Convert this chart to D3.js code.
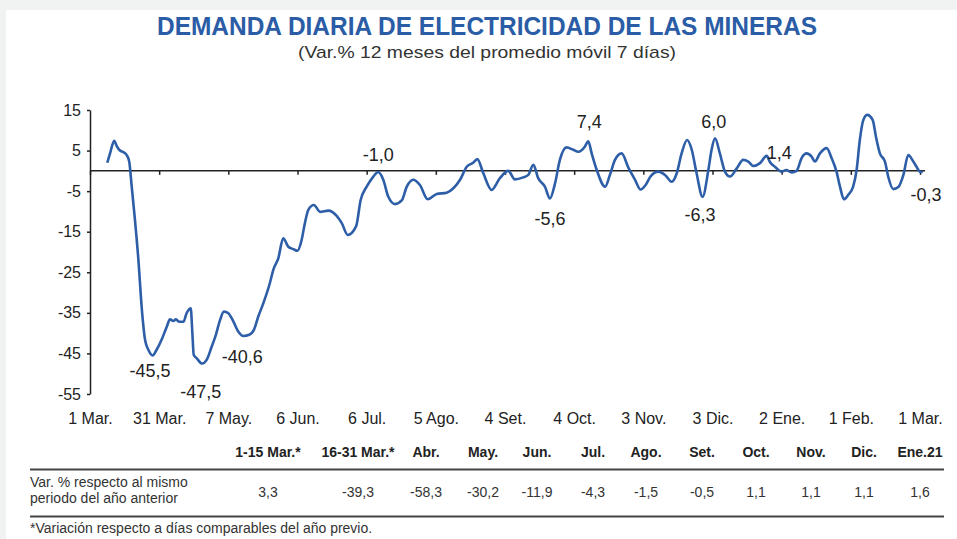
<!DOCTYPE html>
<html>
<head>
<meta charset="utf-8">
<script src="https://cdn.jsdelivr.net/npm/d3@7"></script>
<style>
  body { margin: 0; background: #fff; }
  svg { display: block; font-family: "Liberation Sans", Arial, sans-serif; }
</style>
</head>
<body>
<svg id="chart" width="957" height="539"></svg>
<script>
// dias desde el 1 de marzo y variacion %
var dias = [7.5, 8.7, 10.5, 11.6, 13, 14.5, 15.9, 17, 18.1, 19.5, 21, 22.4, 23.9, 25.3, 27.2, 28.9,
  31, 33.3, 34.7, 36.1, 37.3, 38.7, 40.5, 41.9, 43.7, 44.4, 45, 46.3, 48.6, 50.6, 52.8, 54.6,
  56.4, 58.1, 60, 61.9, 64.3, 66.5, 69.1, 71.1, 73, 75.2, 78, 79.5, 81.7, 83.8, 86, 88.2,
  90, 91.8, 93.2, 94.7, 97.1, 99.8, 103.4, 107, 109.2, 111.8, 115.4, 117.4, 120, 122.9,
  125, 127.2, 129.4, 132.3, 135.2, 137.4, 140.2, 143.1, 146.5, 150.4, 154.7, 157.6, 160.5,
  163.4, 166.2, 168, 170.6, 174.2, 177.8, 181.4, 184.3, 187.9, 190.1, 192.3, 194.4, 197.3,
  199.5, 201.7, 203.8, 206.7, 209.6, 211.8, 214.7, 216.1, 217.6, 219.8, 223.4, 225.5, 227.7,
  230.6, 233.5, 236.4, 238.8, 241, 243.1, 246.5, 249.4, 252.3, 254.5, 256.6, 259, 261,
  263.1, 265.7, 268.2, 269.6, 271.1, 273.2, 275.4, 277.6, 280.5, 283.3, 285.5, 287.7,
  290.6, 293.5, 294.9, 297.1, 300, 302, 304.3, 306.5, 308.6, 310.8, 313, 314.4, 316.6,
  319.5, 321.7, 323.8, 325.3, 327, 328.9, 331, 332.5, 333.9, 335.4, 337.1, 339.5, 340.9,
  342.6, 344.8, 346.2, 348.4, 350.6, 352.8, 354.9, 357.1, 358.5, 360, 361.2];
var variacion = [2.0, 4.3, 7.4, 6.1, 5.0, 4.6, 3.9, 2.3, -3.9, -12.1, -22, -33.5, -41.7, -44.1, -45.5, -44.1,
  -41.7, -38.4, -36.6, -37, -36.6, -37.2, -37.2, -35.1, -33.9, -40, -45.4, -46.2, -47.5, -46.6, -43.3, -40.4,
  -36.8, -34.7, -35.1, -36.8, -39.6, -40.7, -40.4, -39.2, -35.9, -32.6, -27.7, -24.4, -21.5, -16.6, -18.7, -19.3,
  -19.7, -17, -12.9, -9.6, -8.4, -10.1, -9.8, -11.1, -12.9, -15.8, -13.7, -7.2, -3.9, -1.4,
  -0.3, -2.2, -6.4, -8.2, -7.3, -3.9, -2.2, -3.5, -7.0, -5.7, -5.4, -4.3, -2.2,
  1.0, 2.0, 2.9, -0.6, -4.7, -1.8, 0.0, -2.1, -1.6, -1.0, 1.5, -1.8, -3.9,
  -6.8, -3.1, 2.7, 5.8, 5.2, 4.7, 6.0, 7.3, 4.3, 0.2, -3.9, -1.0, 2.7,
  4.3, 0.8, -2.2, -4.6, -3.5, -1.4, -0.2, -1.0, -2.7, -0.6, 4.3, 7.6, 5.2,
  -0.6, -6.4, 0.2, 5.2, 8.0, 4.3, -0.2, -1.4, 0.6, 2.7, 2.3, 1.2,
  1.9, 3.7, 2.2, 1.0, -0.2, 0.2, -0.4, 0.0, 3.1, 4.3, 3.5, 2.3, 4.3,
  5.6, 3.1, -0.2, -3.9, -7.0, -5.9, -3.9, 0.2, 7.6, 12.5, 13.8, 12.5, 8.4,
  4.3, 2.3, -1.4, -4.5, -4.0, -1.0, 3.9, 2.3, 1.0, -0.2, -0.3];

var diasTick = [0, 30, 60, 90, 120, 150, 180, 210, 240, 270, 300, 330, 360];
var fechasTick = ["1 Mar.", "31 Mar.", "7 May.", "6 Jun.", "6 Jul.", "5 Ago.", "4 Set.",
  "4 Oct.", "3 Nov.", "3 Dic.", "2 Ene.", "1 Feb.", "1 Mar."];
var ticksY = [15, 5, -5, -15, -25, -35, -45, -55];

var notaTexto = ["-45,5", "-47,5", "-40,6", "-1,0", "7,4", "-5,6", "6,0", "-6,3", "1,4", "-0,3"];
var notaDia = [26, 48, 66, 125, 216.5, 199.5, 270.6, 264.6, 299, 362.6];
var notaValor = [-45.5, -47.5, -40.6, -1.0, 7.4, -5.6, 6.0, -6.3, 1.4, -0.3];

var periodos = ["1-15 Mar.*", "16-31 Mar.*", "Abr.", "May.", "Jun.", "Jul.", "Ago.", "Set.",
  "Oct.", "Nov.", "Dic.", "Ene.21"];
var varPeriodo = ["3,3", "-39,3", "-58,3", "-30,2", "-11,9", "-4,3", "-1,5", "-0,5",
  "1,1", "1,1", "1,1", "1,6"];

var svg = d3.select("#chart");
var azul = "#2d5ea7";

// bordes grises del recorte
svg.append("rect").attr("x", 0).attr("y", 0).attr("width", 957).attr("height", 10).attr("fill", "#f1f3f3");
svg.append("rect").attr("x", 0).attr("y", 0).attr("width", 6).attr("height", 539).attr("fill", "#f1f3f3");

// titulo
svg.append("text")
  .attr("x", 487).attr("y", 35)
  .attr("text-anchor", "middle")
  .attr("font-size", 25).attr("font-weight", "bold")
  .attr("fill", "#2b5ca6")
  .attr("textLength", 660).attr("lengthAdjust", "spacingAndGlyphs")
  .text("DEMANDA DIARIA DE ELECTRICIDAD DE LAS MINERAS");
svg.append("text")
  .attr("x", 487).attr("y", 58)
  .attr("text-anchor", "middle")
  .attr("font-size", 17).attr("fill", "#333")
  .attr("textLength", 378).attr("lengthAdjust", "spacingAndGlyphs")
  .text("(Var.% 12 meses del promedio móvil 7 días)");

var x = d3.scaleLinear().domain([0, 360]).range([90, 920]);
var y = d3.scaleLinear().domain([-55, 15]).range([394, 110]);

// eje Y
var ejeY = svg.append("g")
  .attr("transform", "translate(90,0)")
  .call(d3.axisLeft(y).tickValues(ticksY).tickSize(3).tickSizeOuter(0).tickFormat(d => String(d)));
ejeY.select(".domain").attr("stroke", "#222").attr("stroke-width", 1.5);
ejeY.selectAll(".tick line").attr("stroke", "#222").attr("stroke-width", 1.5);
ejeY.selectAll(".tick text")
  .attr("x", -9)
  .attr("font-size", 16).attr("fill", "#222")
  .attr("font-family", "Liberation Sans, Arial, sans-serif");

// linea del cero con marcas
svg.append("line")
  .attr("x1", 90).attr("x2", 925)
  .attr("y1", y(0)).attr("y2", y(0))
  .attr("stroke", "#222").attr("stroke-width", 1.5);
var ejeCero = svg.append("g")
  .attr("transform", "translate(0," + y(0) + ")")
  .call(d3.axisBottom(x).tickValues(diasTick).tickSize(4).tickSizeOuter(0).tickFormat(""));
ejeCero.select(".domain").remove();
ejeCero.selectAll(".tick line").attr("stroke", "#222").attr("stroke-width", 1.5);

// etiquetas de fechas
var ejeX = svg.append("g")
  .attr("transform", "translate(0,394)")
  .call(d3.axisBottom(x).tickValues(diasTick).tickSize(0).tickFormat((d, i) => fechasTick[i]));
ejeX.select(".domain").remove();
ejeX.selectAll(".tick text")
  .attr("y", 30).attr("dy", 0)
  .attr("font-size", 16).attr("fill", "#222")
  .attr("font-family", "Liberation Sans, Arial, sans-serif");

// serie
var puntos = dias.map((d, i) => [d, variacion[i]]);
svg.append("path")
  .datum(puntos)
  .attr("fill", "none")
  .attr("stroke", azul)
  .attr("stroke-width", 2.6)
  .attr("stroke-linejoin", "round")
  .attr("d", d3.line().x(d => x(d[0])).y(d => y(d[1])).curve(d3.curveMonotoneX));

// etiquetas de datos
var notaDy = [16, 28, 21, -20, -19, 25, -25, 19, -12, 23];
svg.selectAll(".nota")
  .data(notaTexto)
  .enter().append("text")
  .attr("class", "nota")
  .attr("x", (d, i) => x(notaDia[i]))
  .attr("y", (d, i) => y(notaValor[i]) + notaDy[i] + 6)
  .attr("text-anchor", "middle")
  .attr("font-size", 18).attr("fill", "#222")
  .text(d => d);

// tabla
var colX = [268, 358, 426, 483, 537, 593, 646, 702, 756, 811, 864, 920];
svg.selectAll(".periodo")
  .data(periodos)
  .enter().append("text")
  .attr("class", "periodo")
  .attr("x", (d, i) => colX[i]).attr("y", 457)
  .attr("text-anchor", "middle")
  .attr("font-size", 14).attr("font-weight", "bold").attr("fill", "#222")
  .text(d => d);

svg.append("line").attr("x1", 30).attr("x2", 944).attr("y1", 469.5).attr("y2", 469.5)
  .attr("stroke", "#444").attr("stroke-width", 2.2);
svg.append("line").attr("x1", 30).attr("x2", 944).attr("y1", 516.5).attr("y2", 516.5)
  .attr("stroke", "#444").attr("stroke-width", 2.2);

svg.append("text").attr("x", 30).attr("y", 487).attr("font-size", 14).attr("fill", "#333")
  .text("Var. % respecto al mismo");
svg.append("text").attr("x", 30).attr("y", 503).attr("font-size", 14).attr("fill", "#333")
  .text("periodo del año anterior");

svg.selectAll(".valor")
  .data(varPeriodo)
  .enter().append("text")
  .attr("class", "valor")
  .attr("x", (d, i) => colX[i]).attr("y", 497)
  .attr("text-anchor", "middle")
  .attr("font-size", 14).attr("fill", "#333")
  .text(d => d);

svg.append("text").attr("x", 30).attr("y", 533).attr("font-size", 14).attr("fill", "#333")
  .text("*Variación respecto a días comparables del año previo.");
</script>
</body>
</html>
